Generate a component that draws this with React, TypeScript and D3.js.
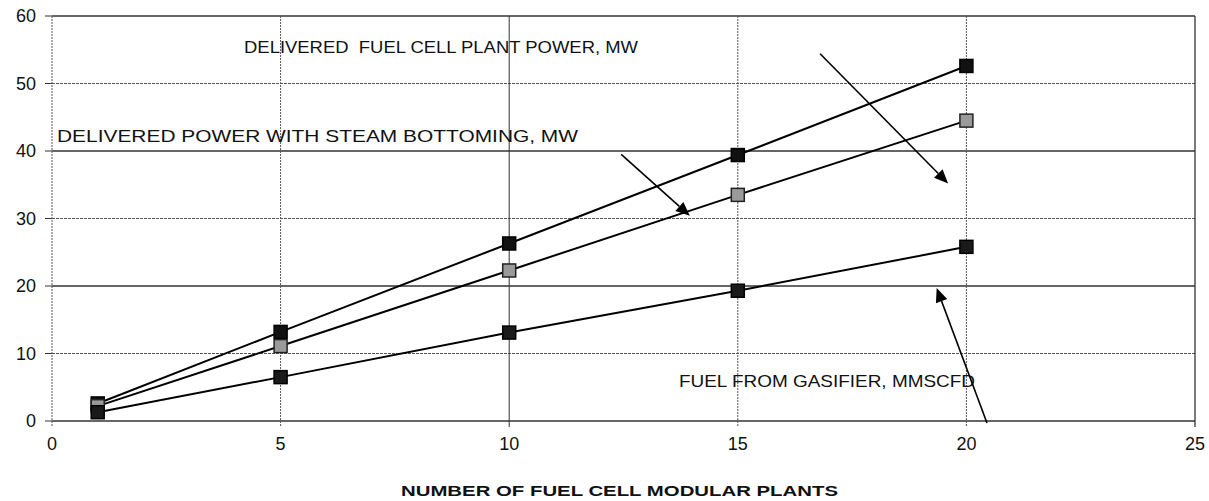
import React from "react";
import * as d3 from "d3";

const W = 1209;
const H = 501;

// data
const plants = [1, 5, 10, 15, 20];
const plantPower = [2.6, 13.2, 26.3, 39.4, 52.6];
const steamPower = [2.2, 11.1, 22.3, 33.5, 44.5];
const gasifierFuel = [1.3, 6.5, 13.1, 19.3, 25.8];

const xTicks = [0, 5, 10, 15, 20, 25];
const yTicks = [0, 10, 20, 30, 40, 50, 60];

const font = "'Liberation Sans', Arial, sans-serif";

const x = d3.scaleLinear().domain([0, 25]).range([52, 1195]);
const y = d3.scaleLinear().domain([0, 60]).range([421, 16]);

const line = d3
  .line<number>()
  .x((_, i) => x(plants[i]))
  .y((d) => y(d));

const series = [
  { values: plantPower, fill: "#111", stroke: "#000" },
  { values: steamPower, fill: "#9a9a9a", stroke: "#222" },
  { values: gasifierFuel, fill: "#1a1a1a", stroke: "#000" },
];

// annotations: text + arrow (arrow given in data units)
const notes = [
  { text: "DELIVERED  FUEL CELL PLANT POWER, MW", tx: 244, ty: 53, len: 394, from: [16.8, 54.4], to: [19.6, 35.2] },
  { text: "DELIVERED POWER WITH STEAM BOTTOMING, MW", tx: 57, ty: 142, len: 521, from: [12.45, 39.5], to: [13.95, 30.4] },
  { text: "FUEL FROM GASIFIER, MMSCFD", tx: 679, ty: 387, len: 296, from: [20.45, -0.3], to: [19.35, 19.7] },
];

function Arrow({ from, to }: { from: number[]; to: number[] }) {
  const x1 = x(from[0]), y1 = y(from[1]);
  const x2 = x(to[0]), y2 = y(to[1]);
  const a = Math.atan2(y2 - y1, x2 - x1);
  const L = 14, w = 6;
  const bx = x2 - L * Math.cos(a), by = y2 - L * Math.sin(a);
  const p = [
    [x2, y2],
    [bx + w * Math.sin(a), by - w * Math.cos(a)],
    [bx - w * Math.sin(a), by + w * Math.cos(a)],
  ];
  return (
    <g>
      <line x1={x1} y1={y1} x2={bx} y2={by} stroke="#000" strokeWidth={1.6} />
      <polygon points={p.map((q) => q.join(",")).join(" ")} fill="#000" />
    </g>
  );
}

export default function App() {
  return (
    <svg
      width={W}
      height={H}
      style={{ position: "absolute", left: 0, top: 0, background: "#fff" }}
      fontFamily={font}
    >
      {/* horizontal grid */}
      {yTicks.map((t, i) => (
        <g key={"h" + t}>
          <line
            x1={x(0)}
            x2={x(25)}
            y1={y(t)}
            y2={y(t)}
            stroke={i % 2 === 0 ? "#333" : "#555"}
            strokeWidth={i % 2 === 0 ? 1.3 : 1}
            strokeDasharray={i % 2 === 0 ? undefined : "3,1"}
          />
          <line x1={x(0) - 7} x2={x(0)} y1={y(t)} y2={y(t)} stroke="#333" />
          <text x={36} y={y(t) + 6} textAnchor="end" fontSize={18} fill="#111">
            {t}
          </text>
        </g>
      ))}
      {/* vertical grid */}
      {xTicks.map((t) => (
        <g key={"v" + t}>
          <line
            x1={x(t)}
            x2={x(t)}
            y1={y(60)}
            y2={y(0) + 6}
            stroke={t === 25 || t === 10 ? "#333" : "#555"}
            strokeWidth={t === 25 ? 1.3 : 1}
            strokeDasharray={t === 25 || t === 10 ? undefined : "2,1"}
          />
          <text x={x(t)} y={450} textAnchor="middle" fontSize={18} fill="#111">
            {t}
          </text>
        </g>
      ))}

      {/* series lines */}
      {series.map((s, k) => (
        <path key={"l" + k} d={line(s.values) || ""} fill="none" stroke="#000" strokeWidth={2} />
      ))}
      {/* markers */}
      {series.map((s, k) =>
        s.values.map((v, i) => (
          <rect
            key={"m" + k + "-" + i}
            x={x(plants[i]) - 6.5}
            y={y(v) - 6.5}
            width={13}
            height={13}
            fill={s.fill}
            stroke={s.stroke}
            strokeWidth={1.5}
          />
        ))
      )}

      {/* annotations */}
      {notes.map((n, i) => (
        <g key={"n" + i}>
          <text
            x={n.tx}
            y={n.ty}
            fontSize={16.5}
            fill="#111"
            textLength={n.len}
            lengthAdjust="spacingAndGlyphs"
            style={{ whiteSpace: "pre" }}
          >
            {n.text}
          </text>
          <Arrow from={n.from} to={n.to} />
        </g>
      ))}

      <text
        x={401}
        y={496}
        fontSize={14}
        fontWeight="bold"
        fill="#111"
        textLength={437}
        lengthAdjust="spacingAndGlyphs"
      >
        NUMBER OF FUEL CELL MODULAR PLANTS
      </text>
    </svg>
  );
}
